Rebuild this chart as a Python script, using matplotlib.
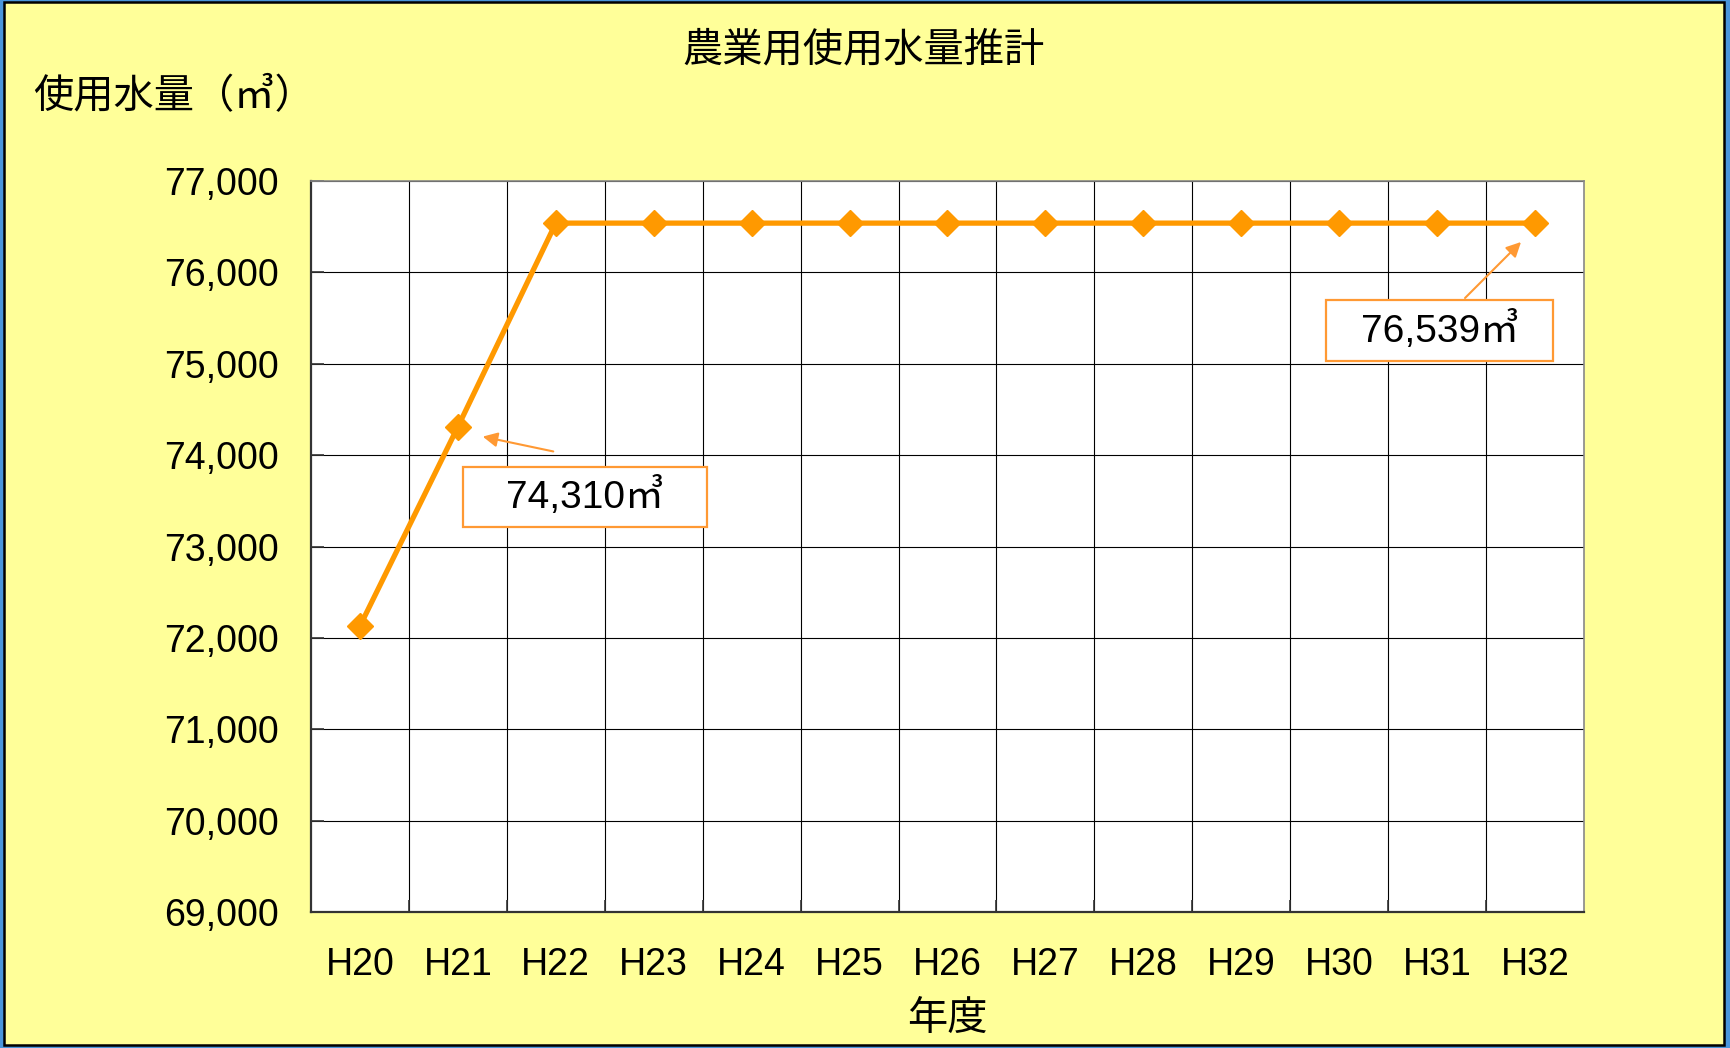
import matplotlib
matplotlib.use("Agg")
import matplotlib.pyplot as plt
from matplotlib.patches import Rectangle
from matplotlib.ticker import FuncFormatter, MultipleLocator

plt.rcParams['font.family'] = ['Liberation Sans', 'Noto Sans CJK JP', 'DejaVu Sans']

# ---- data ----
years = ["H20", "H21", "H22", "H23", "H24", "H25", "H26", "H27",
         "H28", "H29", "H30", "H31", "H32"]
usage = [72130, 74310, 76539, 76539, 76539, 76539, 76539, 76539,
         76539, 76539, 76539, 76539, 76539]
y_min, y_max, y_step = 69000, 77000, 1000
title = "農業用使用水量推計"
y_label = "使用水量（㎥）"
x_label = "年度"
note_h21 = "74,310㎥"
note_h32 = "76,539㎥"

ORANGE = "#FF9900"
NOTE = "#FF9933"
YELLOW = "#FFFF99"

fig = plt.figure(figsize=(17.31, 10.48), dpi=100)
fig.patch.set_facecolor("#4A96DC")
fig.patches.append(Rectangle((4 / 1731, 3 / 1048), 1720 / 1731, 1043 / 1048,
                             transform=fig.transFigure, facecolor=YELLOW,
                             edgecolor="black", linewidth=1.8, zorder=-10))

ax = fig.add_axes([311 / 1731, 136 / 1048, 1273 / 1731, 731 / 1048])
ax.set_facecolor("white")

x = list(range(len(years)))
ax.plot(x, usage, color=ORANGE, linewidth=3.8, marker="D", markersize=13,
        markerfacecolor=ORANGE, markeredgecolor=ORANGE, zorder=5, clip_on=False)

ax.set_xlim(-0.5, len(years) - 0.5)
ax.set_ylim(y_min, y_max)
ax.yaxis.set_major_locator(MultipleLocator(y_step))
ax.yaxis.set_major_formatter(FuncFormatter(lambda v, p: f"{int(v):,}"))
ax.set_xticks(x)
ax.set_xticklabels(years)
ax.set_xticks([i + 0.5 for i in x[:-1]], minor=True)

ax.grid(True, which="major", axis="y", color="black", linewidth=0.8)
ax.grid(True, which="minor", axis="x", color="black", linewidth=0.8)
ax.set_axisbelow(True)

ax.tick_params(axis="y", which="major", direction="in", length=9, width=1.2,
               labelsize=27, pad=23, colors="#333333", labelcolor="black")
ax.tick_params(axis="x", which="major", length=0, labelsize=27, pad=25)
ax.tick_params(axis="x", which="minor", direction="in", length=9, width=1.2,
               colors="#333333")

for side in ["left", "bottom"]:
    ax.spines[side].set_color("#333333")
    ax.spines[side].set_linewidth(1.6)
for side in ["top", "right"]:
    ax.spines[side].set_color("#888888")
    ax.spines[side].set_linewidth(1.2)

fig.text(864 / 1731, 1 - 50 / 1048, title, fontsize=29, ha="center", va="center",
         family=['Noto Sans CJK JP', 'DejaVu Sans'])
fig.text(33 / 1731, 1 - 96 / 1048, y_label, fontsize=29, ha="left", va="center",
         family=['Noto Sans CJK JP', 'DejaVu Sans'])
ax.set_xlabel(x_label, fontsize=29, labelpad=11,
              family=['Noto Sans CJK JP', 'DejaVu Sans'])

# ---- annotation boxes ----
def note_box(x0, y0, x1, y1, text):
    ax.add_patch(Rectangle((x0, y0), x1 - x0, y1 - y0, transform=ax.transAxes,
                           facecolor="white", edgecolor=NOTE, linewidth=1.6,
                           zorder=6, clip_on=False))
    ax.text((x0 + x1) / 2, (y0 + y1) / 2, text, transform=ax.transAxes,
            fontsize=28, ha="center", va="center", zorder=7)

note_box(0.1194, 0.5267, 0.3111, 0.6088, note_h21)
note_box(0.7973, 0.7538, 0.9757, 0.8372, note_h32)

arrow = dict(arrowstyle="-|>", color=NOTE, lw=1.5, mutation_scale=22)
ax.annotate("", xy=(1.226, 74209), xytext=(2.002, 74034), arrowprops=arrow, zorder=6)
ax.annotate("", xy=(11.877, 76354), xytext=(11.265, 75698), arrowprops=arrow, zorder=6)

fig.savefig("out.png", dpi=100, facecolor=fig.get_facecolor())
